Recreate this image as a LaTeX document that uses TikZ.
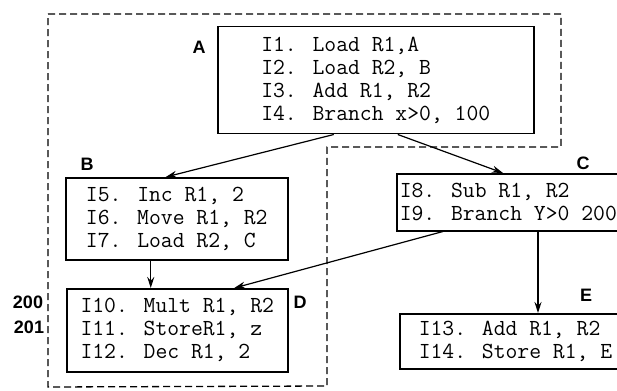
\documentclass[tikz,border=0pt]{standalone}
\usepackage{fontspec}
\newfontfamily\labelsans{Liberation Sans}
\usetikzlibrary{positioning,arrows.meta}

\begin{document}
\begin{tikzpicture}[
    x=1pt, y=-1pt,
% first : the styles of the blocks
    block/.style={
        rectangle,
        draw,
        line width=1.5pt,
        align=left,
        anchor=north west,
        inner ysep=0pt,
        font=\ttfamily\fontsize{23}{23}\selectfont
    },
    tag/.style={font=\labelsans\bfseries\fontsize{18}{18}\selectfont},
    region/.style={line width=1.3pt, dash pattern=on 7pt off 4pt},
    flow/.style={->, line width=1.2pt},
    >={Stealth[length=11pt,width=7pt]}
]
\useasboundingbox (0,0) rectangle (617,390);

% trace region
\draw[region] (48,14) -- (561,14) -- (561,147) -- (327,147) -- (327,386) -- (48,387) -- cycle;

% blocks + instructions
\node[block, minimum width=316pt, minimum height=107pt] (A) at (217,26)
    {I1. Load R1,A\\I2. Load R2, B\\I3. Add R1, R2\\I4. Branch x>0, 100};
\node[block, minimum width=222pt, minimum height=82pt] (B) at (65,177)
    {I5. Inc R1, 2\\I6. Move R1, R2\\I7. Load R2, C};
\node[block, inner xsep=3pt, minimum height=57pt] (C) at (396,173)
    {I8. Sub R1, R2\\I9. Branch Y>0 200};
\node[block, minimum width=221pt, minimum height=83pt] (D) at (66,288)
    {I10. Mult R1, R2\\I11. StoreR1, z\\I12. Dec R1, 2};
\node[block, inner xsep=19pt, minimum height=55pt] (E) at (399,313)
    {I13. Add R1, R2\\I14. Store R1, E};

% block names
\node[tag] (labA) at (199,47) {A};
\node[tag] (labB) at (87,164) {B};
\node[tag] (labC) at (583,163) {C};
\node[tag] (labD) at (300,302) {D};
\node[tag] (labE) at (586,295) {E};
\node[tag] (lab200) at (28,302) {200};
\node[tag] (lab201) at (29,327) {201};

% links
\draw[flow] ([xshift=-42pt]A.south) -- ([xshift=-11pt]B.north);
\draw[flow] ([xshift=22pt]A.south) -- ([xshift=107pt]C.north west);
\draw[flow] ([xshift=-26pt]B.south) -- ([xshift=-26pt]B.south |- D.north);
\draw[flow] ([xshift=47pt]C.south west) -- ([xshift=57pt]D.north);
\draw[flow] ([xshift=142pt]C.south west) -- ([xshift=142pt]C.south west |- E.north);

\end{tikzpicture}
\end{document}
